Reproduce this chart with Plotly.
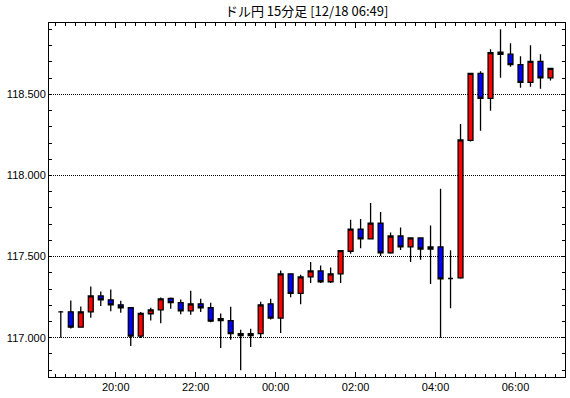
import plotly.graph_objects as go
import pandas as pd

title_text = "ドル円 15分足 [12/18 06:49]"

times = [
    "2014-12-17 18:30", "2014-12-17 18:45", "2014-12-17 19:00", "2014-12-17 19:15",
    "2014-12-17 19:30", "2014-12-17 19:45", "2014-12-17 20:00", "2014-12-17 20:15",
    "2014-12-17 20:30", "2014-12-17 20:45", "2014-12-17 21:00", "2014-12-17 21:15",
    "2014-12-17 21:30", "2014-12-17 21:45", "2014-12-17 22:00", "2014-12-17 22:15",
    "2014-12-17 22:30", "2014-12-17 22:45", "2014-12-17 23:00", "2014-12-17 23:15",
    "2014-12-17 23:30", "2014-12-17 23:45", "2014-12-18 00:00", "2014-12-18 00:15",
    "2014-12-18 00:30", "2014-12-18 00:45", "2014-12-18 01:00", "2014-12-18 01:15",
    "2014-12-18 01:30", "2014-12-18 01:45", "2014-12-18 02:00", "2014-12-18 02:15",
    "2014-12-18 02:30", "2014-12-18 02:45", "2014-12-18 03:00", "2014-12-18 03:15",
    "2014-12-18 03:30", "2014-12-18 03:45", "2014-12-18 04:00", "2014-12-18 04:15",
    "2014-12-18 04:30", "2014-12-18 04:45", "2014-12-18 05:00", "2014-12-18 05:15",
    "2014-12-18 05:30", "2014-12-18 05:45", "2014-12-18 06:00", "2014-12-18 06:15",
    "2014-12-18 06:30", "2014-12-18 06:45",
]

opens = [
    117.160, 117.160, 117.065, 117.160, 117.258, 117.234, 117.203, 117.185, 117.010, 117.148,
    117.172, 117.242, 117.216, 117.166, 117.209, 117.185, 117.117, 117.105, 117.025, 117.013,
    117.025, 117.209, 117.121, 117.394, 117.274, 117.375, 117.412, 117.345, 117.394, 117.533,
    117.670, 117.609, 117.707, 117.523, 117.627, 117.560, 117.615, 117.547, 117.560, 117.365,
    117.369, 118.217, 118.629, 118.475, 118.760, 118.748, 118.684, 118.574, 118.703, 118.602,
]
highs = [
    117.165, 117.230, 117.193, 117.316, 117.285, 117.297, 117.228, 117.185, 117.158, 117.185,
    117.248, 117.248, 117.236, 117.289, 117.240, 117.216, 117.150, 117.191, 117.050, 117.056,
    117.222, 117.240, 117.414, 117.394, 117.389, 117.467, 117.445, 117.433, 117.540, 117.727,
    117.732, 117.830, 117.775, 117.649, 117.680, 117.620, 117.620, 117.692, 117.918, 117.539,
    118.317, 118.629, 118.643, 118.778, 118.901, 118.815, 118.735, 118.803, 118.748, 118.660,
]
lows = [
    117.000, 117.057, 117.065, 117.123, 117.195, 117.164, 117.154, 116.949, 116.998, 117.107,
    117.090, 117.179, 117.145, 117.142, 117.158, 117.096, 116.936, 116.988, 116.800, 116.943,
    116.998, 117.113, 117.029, 117.250, 117.207, 117.338, 117.338, 117.338, 117.338, 117.517,
    117.551, 117.609, 117.504, 117.517, 117.541, 117.467, 117.480, 117.332, 117.000, 117.182,
    117.363, 118.209, 118.276, 118.399, 118.602, 118.670, 118.541, 118.547, 118.534, 118.586,
]
closes = [
    117.160, 117.065, 117.160, 117.258, 117.234, 117.203, 117.185, 117.010, 117.150, 117.172,
    117.240, 117.216, 117.166, 117.209, 117.185, 117.102, 117.105, 117.025, 117.013, 117.025,
    117.203, 117.121, 117.394, 117.274, 117.375, 117.412, 117.345, 117.394, 117.537, 117.670,
    117.609, 117.707, 117.523, 117.627, 117.560, 117.615, 117.547, 117.560, 117.363, 117.365,
    118.219, 118.629, 118.475, 118.758, 118.746, 118.684, 118.574, 118.703, 118.602, 118.660,
]

y_ticks = [117.0, 117.5, 118.0, 118.5]
y_range = [116.758, 118.94]
x_range = ["2014-12-17 18:19:48", "2014-12-18 07:14:18"]

# candles are drawn at the middle of their 15-minute period
x_mid = pd.to_datetime(times) + pd.Timedelta(minutes=7, seconds=30)

fig = go.Figure()
fig.add_trace(go.Candlestick(
    x=x_mid, open=opens, high=highs, low=lows, close=closes,
    increasing=dict(line=dict(color="black", width=1.3), fillcolor="#ff0000"),
    decreasing=dict(line=dict(color="black", width=1.3), fillcolor="#0000ff"),
    whiskerwidth=0,
    showlegend=False,
    hoverinfo="x+y",
))

axis_font = dict(family="Liberation Sans, Arial, sans-serif", size=11, color="black")

fig.update_layout(
    width=570, height=398,
    margin=dict(l=49, r=5, t=23, b=21, autoexpand=False),
    paper_bgcolor="white", plot_bgcolor="white",
    title=dict(text=title_text, x=0.538, xanchor="center", y=0.97, yanchor="middle",
               font=dict(family="Noto Sans CJK JP, sans-serif", size=13, color="black")),
    xaxis=dict(
        type="date", range=x_range, rangeslider=dict(visible=False),
        tick0="2014-12-17 20:00", dtick=7200000, tickformat="%H:%M",
        ticks="inside", ticklen=5, tickcolor="black", tickwidth=1,
        minor=dict(dtick=900000, tick0="2014-12-17 20:00", ticks="inside", ticklen=3,
                   tickcolor="black", showgrid=False),
        showline=True, linecolor="black", linewidth=1, mirror="allticks",
        showgrid=False, zeroline=False, tickfont=axis_font,
    ),
    yaxis=dict(
        range=y_range, tickvals=y_ticks, tickformat=".3f",
        ticks="inside", ticklen=3, tickcolor="black", tickwidth=1,
        minor=dict(dtick=0.1, tick0=117.0, ticks="inside", ticklen=3, tickcolor="black",
                   showgrid=False),
        showline=True, linecolor="black", linewidth=1, mirror="allticks",
        showgrid=True, gridcolor="black", griddash="1px,1px", gridwidth=1,
        zeroline=False, tickfont=axis_font,
    ),
)

fig.write_html("out.html", config={"displayModeBar": False},
               post_script="document.body.style.margin='0px';")
